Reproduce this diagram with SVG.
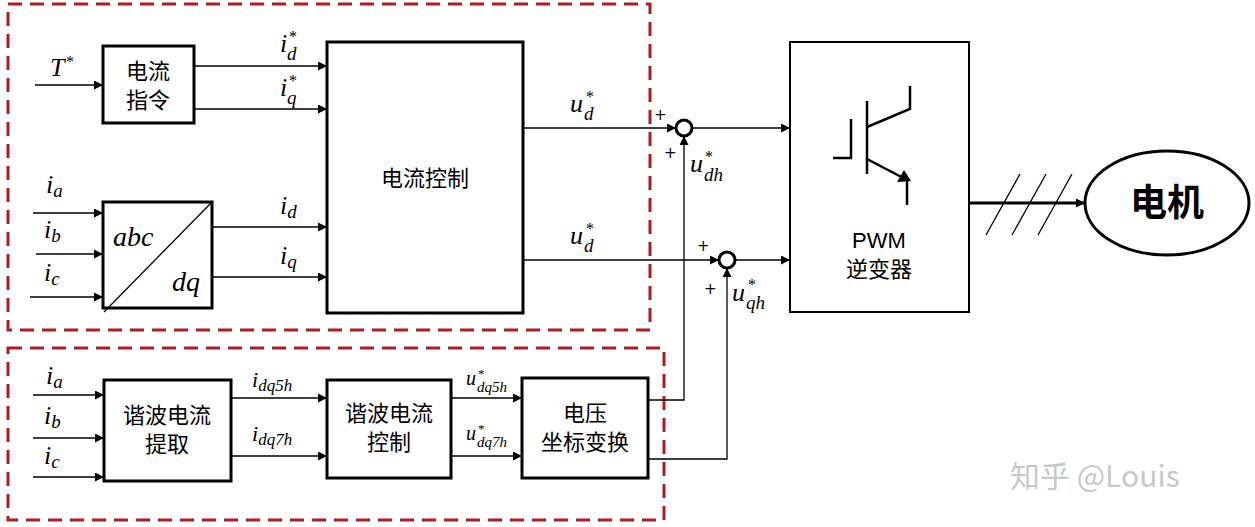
<svg xmlns="http://www.w3.org/2000/svg" width="1255" height="527" viewBox="0 0 1255 527">
<defs>
<marker id="ar" viewBox="0 0 10 10" refX="10" refY="5" markerWidth="9" markerHeight="9" markerUnits="userSpaceOnUse" orient="auto"><path d="M0,0L10,5L0,10z" fill="#000"/></marker>
<style>
.b{fill:#fff;stroke:#000;stroke-width:3}
.l{stroke:#000;stroke-width:1.3;fill:none}
.a{stroke:#000;stroke-width:1.3;fill:none;marker-end:url(#ar)}
.d{fill:none;stroke:#b01c1c;stroke-width:3;stroke-dasharray:14,8}
.cn{font-family:"Noto Sans CJK SC",sans-serif;font-size:22px;text-anchor:middle;fill:#000}
.m{font-family:"Liberation Serif",serif;font-style:italic;font-size:26px;fill:#000}
.s{font-size:19px}
.st{font-size:16px;font-style:normal}
.p{font-family:"DejaVu Sans",sans-serif;font-size:15px;fill:#000}
</style>
</defs>
<rect width="1255" height="527" fill="#fff"/>
<rect class="d" x="8" y="4" width="642" height="326"/>
<rect class="d" x="8" y="348" width="656" height="172"/>
<g id="connectors">
<path class="a" d="M35,85H103"/>
<path class="a" d="M33,213H103"/><path class="a" d="M36,254H103"/><path class="a" d="M30,297H103"/>
<path class="a" d="M194,66H327"/><path class="a" d="M194,109H327"/>
<path class="a" d="M212,227H327"/><path class="a" d="M212,277H327"/>
<path class="a" d="M523,128H676"/><path class="a" d="M692,128H790"/>
<path class="a" d="M523,260H719"/><path class="a" d="M735,260H790"/>
<path class="a" d="M648,400H684V136"/><path class="a" d="M648,459H727V268"/>
<path class="a" d="M33,395H104"/><path class="a" d="M33,438H104"/><path class="a" d="M33,477H104"/>
<path class="a" d="M231,398H327"/><path class="a" d="M231,456H327"/>
<path class="a" d="M451,398H522"/><path class="a" d="M451,456H522"/>
<path d="M969,203H1085" stroke="#000" stroke-width="3" fill="none" marker-end="url(#ar)"/>
<path class="l" d="M986,235L1020,174M1012,235L1046,174M1038,235L1072,174"/>
</g>
<g id="n_cmd"><rect class="b" x="103" y="46" width="91" height="77"/><text class="cn" x="148" y="79">电流</text><text class="cn" x="148" y="108">指令</text></g>
<g id="n_abc"><rect class="b" x="103" y="202" width="109" height="106"/><path class="l" d="M212,202L104,312"/><text class="m" x="113" y="246" style="font-size:28px">abc</text><text class="m" x="172" y="291" style="font-size:28px">dq</text></g>
<g id="n_ctrl"><rect class="b" x="327" y="42" width="196" height="271"/><text class="cn" x="425" y="186">电流控制</text></g>
<g id="s1"><circle cx="684" cy="128" r="8" fill="#fff" stroke="#000" stroke-width="3"/></g>
<g id="s2"><circle cx="727" cy="260" r="8" fill="#fff" stroke="#000" stroke-width="3"/></g>
<g id="n_pwm"><rect x="790" y="42" width="179" height="270" fill="#fff" stroke="#000" stroke-width="2"/>
<path d="M833,158H851V119M867,101V174M867,127L910,109V86M867,159L907,180V205" stroke="#000" stroke-width="2.5" fill="none"/>
<path d="M897,182L911,181L904,170z" fill="#000"/>
<text class="cn" x="879" y="248" style="font-family:'Liberation Sans',sans-serif">PWM</text><text class="cn" x="879" y="277">逆变器</text></g>
<g id="n_motor"><ellipse cx="1167" cy="203" rx="82" ry="52" fill="#fff" stroke="#000" stroke-width="3"/><text class="cn" x="1167" y="216" style="font-size:37px;font-weight:bold">电机</text></g>
<g id="n_ext"><rect class="b" x="104" y="380" width="127" height="101"/><text class="cn" x="167" y="423">谐波电流</text><text class="cn" x="167" y="452">提取</text></g>
<g id="n_hc"><rect class="b" x="327" y="380" width="124" height="98"/><text class="cn" x="389" y="421">谐波电流</text><text class="cn" x="389" y="450">控制</text></g>
<g id="n_vt"><rect class="b" x="522" y="378" width="126" height="100"/><text class="cn" x="585" y="421">电压</text><text class="cn" x="585" y="450">坐标变换</text></g>
<g id="labels">
<text class="m" x="50" y="76">T</text><text class="m st" x="66" y="67">*</text>
<text class="m" x="46" y="193">i<tspan class="s" dy="4">a</tspan></text>
<text class="m" x="44" y="238">i<tspan class="s" dy="4">b</tspan></text>
<text class="m" x="44" y="281">i<tspan class="s" dy="4">c</tspan></text>
<text class="m" x="280" y="52">i</text><text class="m st" x="289" y="42">*</text><text class="m s" x="287" y="60">d</text>
<text class="m" x="280" y="96">i</text><text class="m st" x="289" y="86">*</text><text class="m s" x="287" y="104">q</text>
<text class="m" x="280" y="214">i<tspan class="s" dy="4">d</tspan></text>
<text class="m" x="280" y="264">i<tspan class="s" dy="4">q</tspan></text>
<text class="m" x="570" y="112">u</text><text class="m st" x="586" y="102">*</text><text class="m s" x="584" y="120">d</text>
<text class="m" x="570" y="244">u</text><text class="m st" x="586" y="234">*</text><text class="m s" x="584" y="252">d</text>
<text class="m" x="690" y="172">u</text><text class="m st" x="705" y="162">*</text><text class="m s" x="704" y="181">dh</text>
<text class="m" x="732" y="301">u</text><text class="m st" x="748" y="290">*</text><text class="m s" x="746" y="309">qh</text>
<text class="p" x="654" y="120">+</text><text class="p" x="664" y="158">+</text>
<text class="p" x="697" y="251">+</text><text class="p" x="704" y="294">+</text>
<text class="m" x="46" y="384">i<tspan class="s" dy="4">a</tspan></text>
<text class="m" x="44" y="424">i<tspan class="s" dy="4">b</tspan></text>
<text class="m" x="44" y="464">i<tspan class="s" dy="4">c</tspan></text>
<text class="m" x="252" y="387" style="font-size:22px">i<tspan style="font-size:17px" dy="4">dq5h</tspan></text>
<text class="m" x="252" y="441" style="font-size:22px">i<tspan style="font-size:17px" dy="4">dq7h</tspan></text>
<text class="m" x="466" y="385" style="font-size:20px">u</text><text class="m" x="478" y="378" style="font-size:13px;font-style:normal">*</text><text class="m" x="477" y="392" style="font-size:15px">dq5h</text>
<text class="m" x="466" y="440" style="font-size:20px">u</text><text class="m" x="478" y="433" style="font-size:13px;font-style:normal">*</text><text class="m" x="477" y="447" style="font-size:15px">dq7h</text>
</g>
<text x="1010" y="487" font-family="Noto Sans CJK SC,sans-serif" font-size="30" fill="#c8c8c8">知乎 @Louis</text>
</svg>
